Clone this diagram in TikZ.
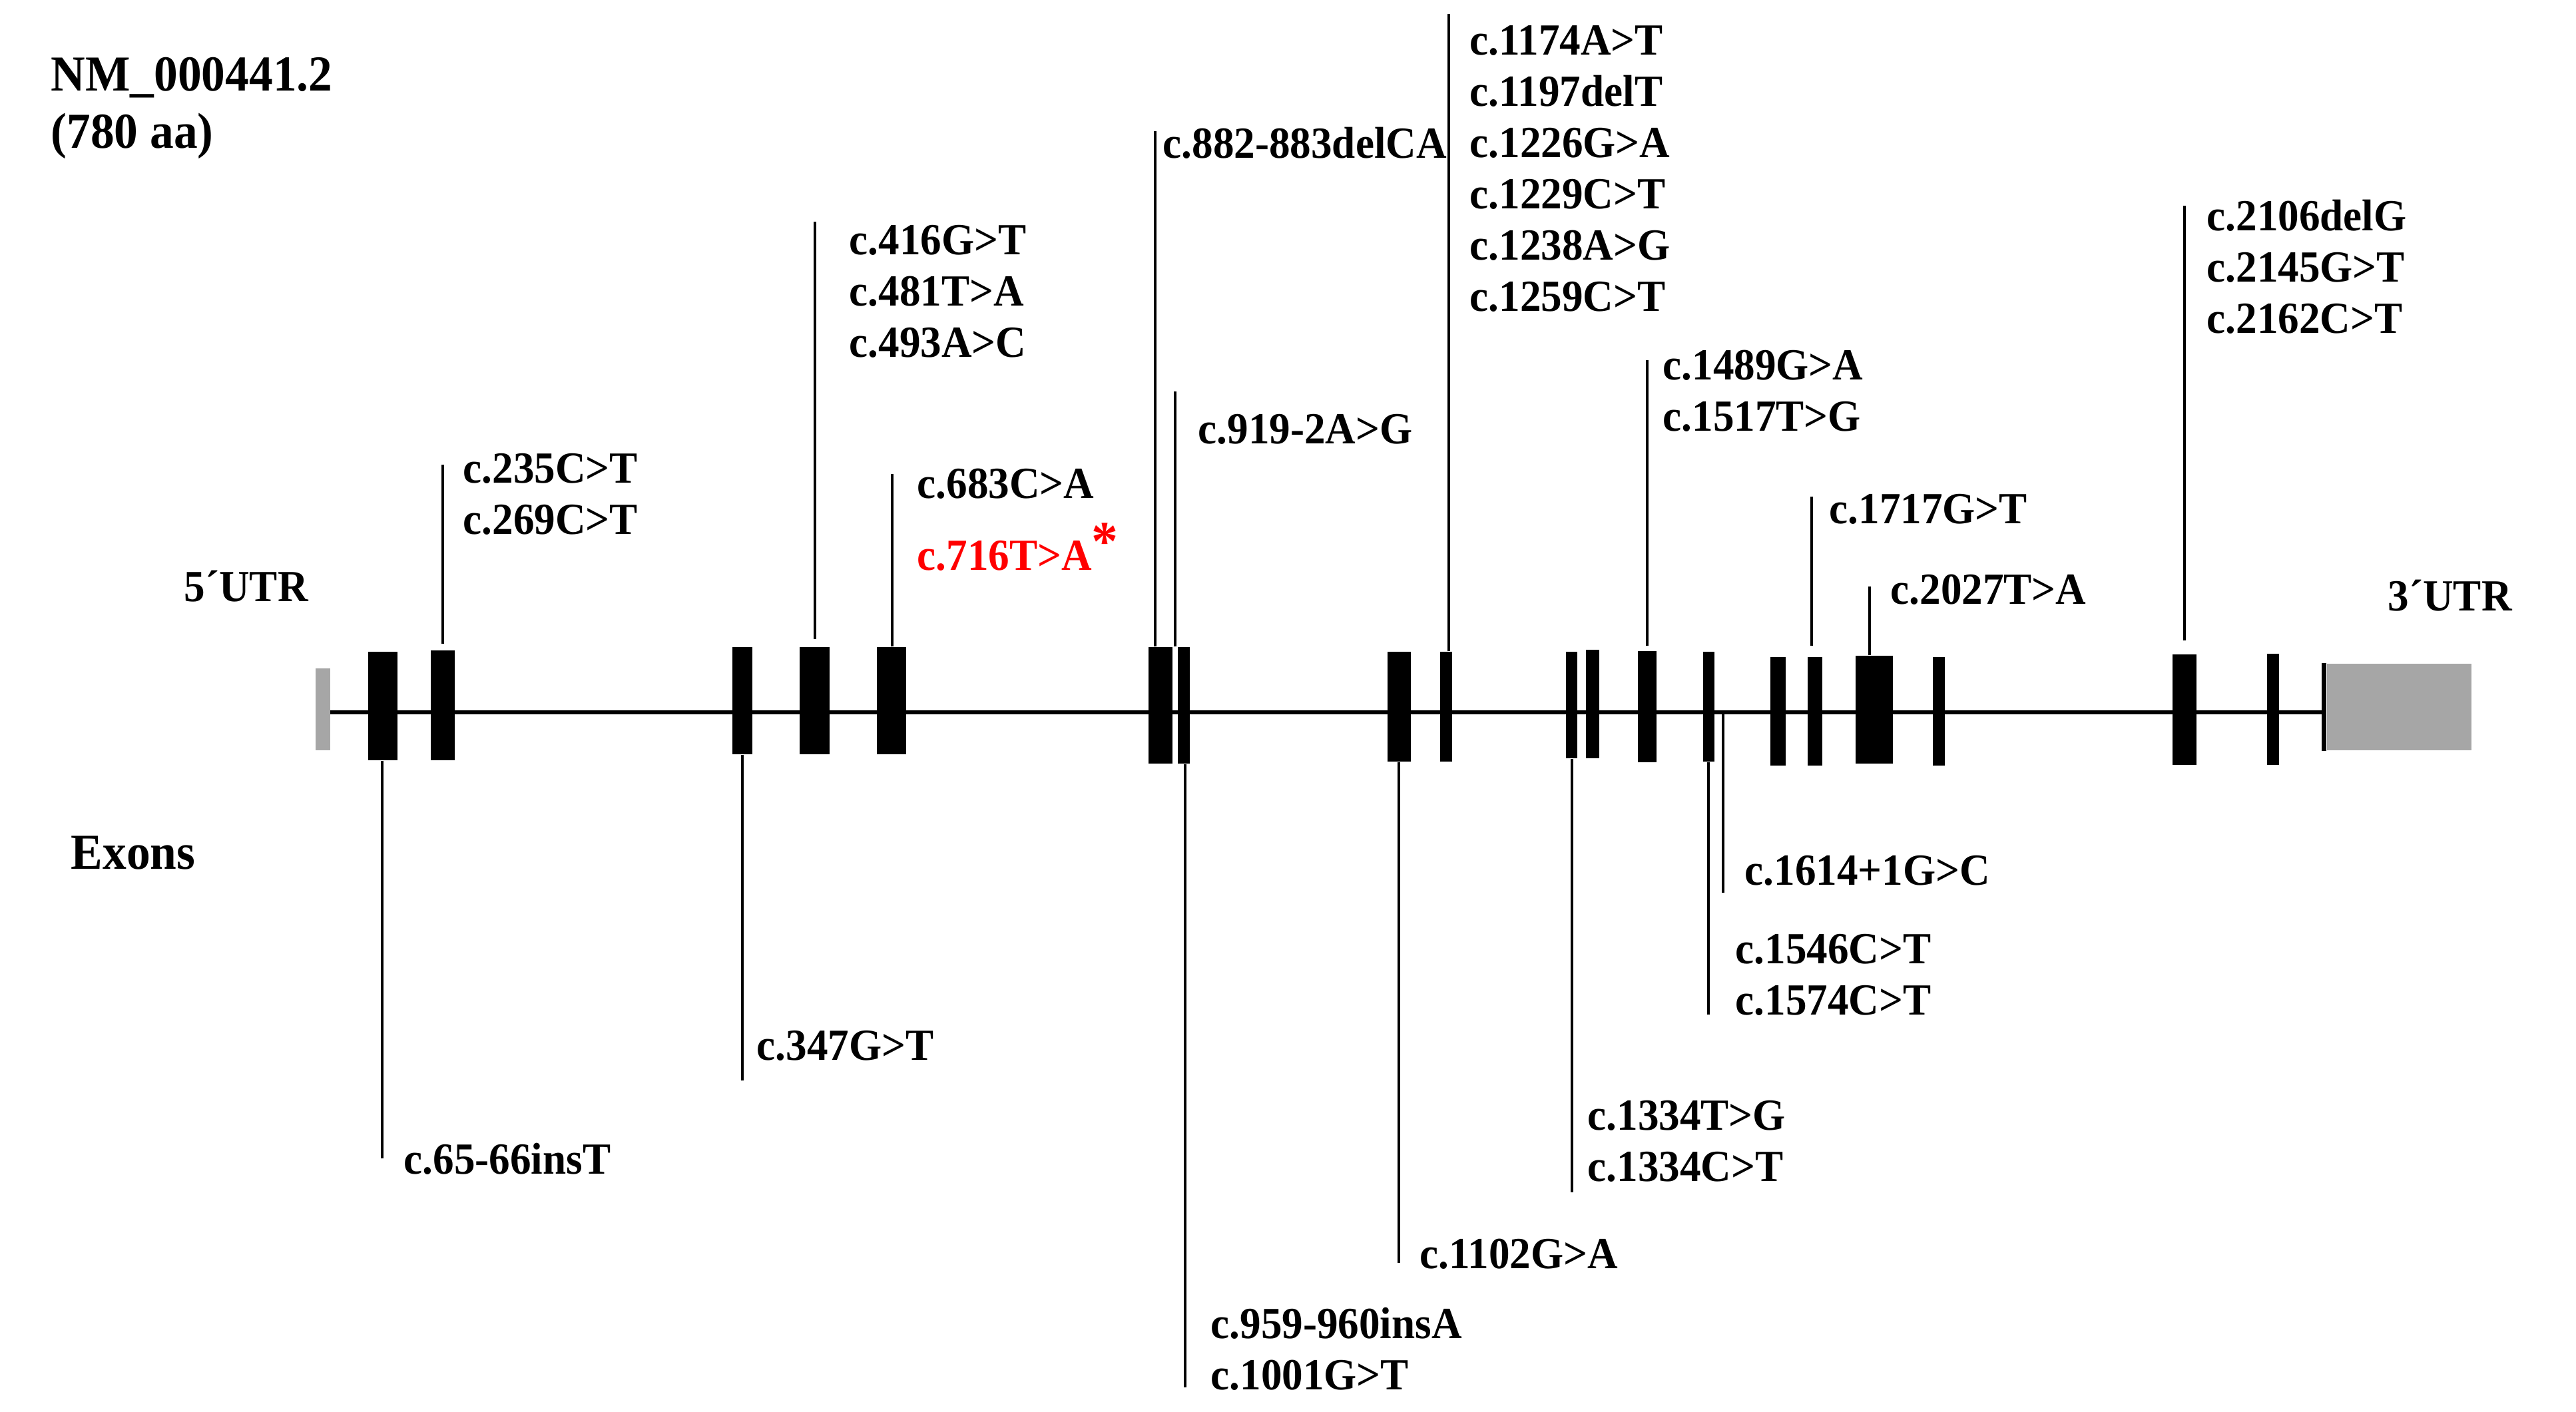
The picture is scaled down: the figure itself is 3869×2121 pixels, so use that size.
\documentclass[tikz,border=0pt]{standalone}
\usepackage{fontspec}
\setmainfont{Liberation Serif}[FakeStretch=0.945]
\usepackage{tikz}
\usetikzlibrary{fit}
\usepackage{xcolor}
\definecolor{utrgrey}{RGB}{166,166,166}
\definecolor{hotred}{RGB}{255,0,0}

\newcommand{\mutlist}[1]{\begin{tabular}[t]{@{}l@{}}#1\end{tabular}}

\begin{document}
\begin{tikzpicture}[x=0.01cm, y=-0.01cm,
  exon/.style={fill=black, inner sep=0pt},
  utr/.style={fill=utrgrey, inner sep=0pt},
  intron/.style={line width=0.055cm},
  mut/.style={line width=0.04cm},
  lbl/.style={anchor=base west, inner sep=0pt, font=\bfseries\fontsize{19}{21.9}\selectfont},
  title/.style={anchor=base west, inner sep=0pt, font=\bfseries\fontsize{21.5}{24.5}\selectfont}]
  \path[use as bounding box] (0,0) rectangle (3869,2121);

  % titles
  \node[title] (gene) at (76,136) {NM\_000441.2};
  \node[title] (len) at (76,222) {(780 aa)};
  \node[lbl] (utr5lbl) at (276,903) {5´UTR};
  \node[lbl] (utr3lbl) at (3586,917) {3´UTR};
  \node[title] (exons) at (106,1305) {Exons};

  % backbone
  \node[utr, fit={(474,1004) (496,1127)}] (utr5) {};
  \node[utr, fit={(3495,997) (3712,1127)}] (utr3) {};
  \coordinate (bb0) at (496,1070);
  \coordinate (bb1) at (3490,1070);
  \draw[intron] (bb0) -- (bb1);
  \draw[line width=0.07cm] ([xshift=-0.035cm]utr3.north west) -- ([xshift=-0.035cm]utr3.south west);

  % exons
  \foreach \n/\xa/\xb/\ya/\yb in {
    1/553/597/979/1142, 2/647/683/977/1142, 3/1100/1130/972/1133,
    4/1201/1246/972/1133, 5/1317/1361/972/1133, 6/1725/1761/972/1147,
    7/1769/1787/972/1147, 8/2084/2119/979/1144, 9/2163/2181/979/1144,
    10/2352/2369/979/1139, 11/2382/2402/976/1139, 12/2460/2488/978/1145,
    13/2558/2575/979/1144, 14/2659/2682/987/1150, 15/2715/2737/987/1150,
    16/2787/2843/985/1147, 17/2903/2921/987/1150, 18/3263/3299/983/1149,
    19/3405/3423/982/1149}
    \node[exon, fit={(\xa,\ya) (\xb,\yb)}] (ex\n) {};

  % mutations above
  \coordinate (u235) at (665,698);
  \draw[mut, shorten <=0.09cm] (ex2.north -| u235) -- (u235);
  \node[lbl] (l235) at (695,725) {\mutlist{c.235C>T\\c.269C>T}};

  \coordinate (u416) at (1224,333);
  \draw[mut, shorten <=0.11cm] (ex4.north -| u416) -- (u416);
  \node[lbl] (l416) at (1275,382) {\mutlist{c.416G>T\\c.481T>A\\c.493A>C}};

  \coordinate (u683) at (1340,712);
  \draw[mut] (ex5.north -| u683) -- (u683);
  \node[lbl] (l683) at (1377,748) {c.683C>A};
  \node[lbl, text=hotred] (l716) at (1377,856) {c.716T>A\raisebox{4pt}{\fontsize{24}{24}\selectfont *}};

  \coordinate (u882) at (1735,197);
  \draw[mut] (ex6.north -| u882) -- (u882);
  \node[lbl] (l882) at (1746,237) {c.882-883delCA};

  \coordinate (u919) at (1765,588);
  \draw[mut] (ex7.north -| u919) -- (u919);
  \node[lbl] (l919) at (1799,666) {c.919-2A>G};

  \coordinate (u1174) at (2176,21);
  \draw[mut] (ex9.north -| u1174) -- (u1174);
  \node[lbl] (l1174) at (2207,82) {\mutlist{c.1174A>T\\c.1197delT\\c.1226G>A\\c.1229C>T\\c.1238A>G\\c.1259C>T}};

  \coordinate (u1489) at (2474,541);
  \draw[mut, shorten <=0.07cm] (ex12.north -| u1489) -- (u1489);
  \node[lbl] (l1489) at (2497,570) {\mutlist{c.1489G>A\\c.1517T>G}};

  \coordinate (u1717) at (2721,746);
  \draw[mut, shorten <=0.16cm] (ex15.north -| u1717) -- (u1717);
  \node[lbl] (l1717) at (2747,786) {c.1717G>T};

  \coordinate (u2027) at (2808,881);
  \draw[mut] (ex16.north -| u2027) -- (u2027);
  \node[lbl] (l2027) at (2839,907) {c.2027T>A};

  \coordinate (u2106) at (3281,309);
  \draw[mut, shorten <=0.2cm] (ex18.north -| u2106) -- (u2106);
  \node[lbl] (l2106) at (3314,346) {\mutlist{c.2106delG\\c.2145G>T\\c.2162C>T}};

  % mutations below
  \coordinate (d65) at (574,1740);
  \draw[mut] (ex1.south -| d65) -- (d65);
  \node[lbl] (l65) at (606,1763) {c.65-66insT};

  \coordinate (d347) at (1115,1623);
  \draw[mut] (ex3.south -| d347) -- (d347);
  \node[lbl] (l347) at (1136,1592) {c.347G>T};

  \coordinate (d959) at (1780,2084);
  \draw[mut] (ex7.south -| d959) -- (d959);
  \node[lbl] (l959) at (1818,2010) {\mutlist{c.959-960insA\\c.1001G>T}};

  \coordinate (d1102) at (2101,1897);
  \draw[mut] (ex8.south -| d1102) -- (d1102);
  \node[lbl] (l1102) at (2132,1905) {c.1102G>A};

  \coordinate (d1334) at (2361,1791);
  \draw[mut] (ex10.south -| d1334) -- (d1334);
  \node[lbl] (l1334) at (2384,1697) {\mutlist{c.1334T>G\\c.1334C>T}};

  \coordinate (d1546) at (2566,1524);
  \draw[mut] (ex13.south -| d1546) -- (d1546);
  \node[lbl] (l1546) at (2606,1447) {\mutlist{c.1546C>T\\c.1574C>T}};

  \coordinate (d1614) at (2588,1341);
  \draw[mut] (d1614 |- bb0) -- (d1614);
  \node[lbl] (l1614) at (2620,1329) {c.1614+1G>C};
\end{tikzpicture}
\end{document}
